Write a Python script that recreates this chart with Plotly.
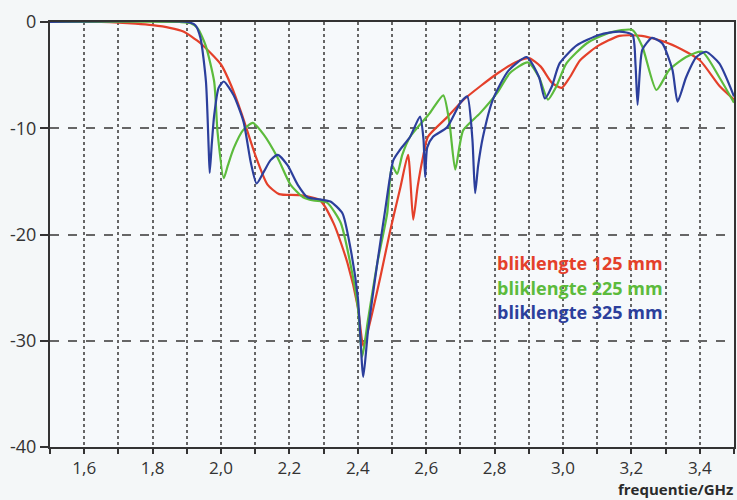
import plotly.graph_objects as go

# ---- data ----
red_x = [1.50, 1.65, 1.70, 1.75, 1.80, 1.85, 1.89, 1.94, 2.00, 2.03, 2.06, 2.10, 2.136, 2.17, 2.23, 2.29,
         2.33, 2.37, 2.40, 2.416, 2.43, 2.466, 2.495, 2.525, 2.547, 2.562, 2.575, 2.59, 2.605, 2.66, 2.71,
         2.76, 2.81, 2.86, 2.90, 2.935, 2.967, 2.996, 3.02, 3.05, 3.10, 3.165, 3.23, 3.28, 3.33, 3.40, 3.457, 3.50]
red_y = [0, 0, -0.05, -0.15, -0.3, -0.55, -0.9, -2.0, -4.0, -6.0, -8.6, -12.5, -15.3, -16.2, -16.3, -16.8,
         -19.0, -22.7, -26.8, -30.5, -29.0, -24.0, -19.6, -15.5, -12.5, -18.6, -15.5, -12.8, -10.8, -9.0, -7.3,
         -6.0, -4.8, -3.8, -3.4, -4.2, -5.7, -6.2, -5.2, -3.6, -2.3, -1.3, -1.3, -1.7, -2.3, -3.6, -6.0, -7.3]

green_x = [1.50, 1.88, 1.91, 1.932, 1.955, 1.98, 1.99, 2.008, 2.02, 2.037, 2.064, 2.093, 2.125, 2.166, 2.203,
           2.24, 2.27, 2.31, 2.35, 2.378, 2.40, 2.413, 2.43, 2.457, 2.486, 2.50, 2.515, 2.53, 2.553, 2.61, 2.65,
           2.668, 2.685, 2.708, 2.757, 2.807, 2.845, 2.897, 2.93, 2.956, 2.98, 3.01, 3.07, 3.136, 3.203, 3.232,
           3.273, 3.311, 3.36, 3.407, 3.457, 3.50]
green_y = [0, 0, -0.1, -0.6, -2.2, -5.6, -10.4, -14.7, -13.5, -11.9, -10.2, -9.5, -10.6, -12.8, -15.3,
           -16.5, -16.8, -17.0, -18.9, -22.7, -26.8, -31.5, -28.0, -22.7, -18.0, -13.5, -14.3, -12.5, -10.8, -8.6, -6.9,
           -9.5, -13.9, -10.2, -8.6, -6.7, -4.8, -3.8, -5.2, -7.3, -6.1, -3.9, -2.0, -1.0, -0.75, -2.3,
           -6.4, -4.5, -3.3, -2.8, -5.2, -7.6]

blue_x = [1.50, 1.90, 1.925, 1.94, 1.956, 1.964, 1.967, 1.973, 1.98, 1.993, 2.008, 2.037, 2.066, 2.087, 2.104,
          2.125, 2.145, 2.166, 2.195, 2.224, 2.253, 2.29, 2.32, 2.355, 2.378, 2.40, 2.416, 2.43, 2.457, 2.48,
          2.504, 2.524, 2.553, 2.582, 2.592, 2.597, 2.603, 2.62, 2.661, 2.70, 2.72, 2.735, 2.743, 2.752, 2.766,
          2.795, 2.84, 2.894, 2.93, 2.947, 2.967, 2.99, 3.04, 3.107, 3.165, 3.203, 3.212, 3.218, 3.225, 3.232,
          3.26, 3.29, 3.32, 3.335, 3.36, 3.39, 3.418, 3.457, 3.50]
blue_y = [0, 0, -0.3, -1.5, -5.6, -11.9, -14.2, -11.5, -8.8, -6.2, -5.6, -6.9, -9.4, -13.2, -15.2,
          -14.1, -13.0, -12.5, -13.5, -15.3, -16.5, -16.7, -16.9, -18.0, -21.2, -25.9, -33.4, -29.0, -22.7, -17.7,
          -13.0, -12.0, -10.8, -8.9, -11.0, -14.6, -11.8, -10.8, -9.9, -7.6, -7.0, -11.0, -16.1, -13.5, -10.8,
          -7.3, -4.6, -3.3, -5.2, -7.2, -6.1, -3.9, -2.2, -1.2, -0.9, -1.2, -4.0, -7.8, -4.5, -2.6,
          -1.5, -2.0, -4.5, -7.5, -5.2, -3.3, -2.8, -3.9, -7.0]

series_names = ["bliklengte 125 mm", "bliklengte 225 mm", "bliklengte 325 mm"]
series_colors = ["#e4402a", "#5cbb3c", "#2c3f9c"]

x_tickvals = [1.6, 1.8, 2.0, 2.2, 2.4, 2.6, 2.8, 3.0, 3.2, 3.4]
x_ticktext = ["1,6", "1,8", "2,0", "2,2", "2,4", "2,6", "2,8", "3,0", "3,2", "3,4"]
x_minor = [1.5, 1.7, 1.9, 2.1, 2.3, 2.5, 2.7, 2.9, 3.1, 3.3, 3.5]
y_tickvals = [-40, -30, -20, -10, 0]
y_ticktext = ["-40", "-30", "-20", "-10", "0"]
x_title = "frequentie/GHz"

fig = go.Figure()
for xs, ys, name, col in zip([red_x, green_x, blue_x], [red_y, green_y, blue_y], series_names, series_colors):
    fig.add_trace(go.Scatter(x=xs, y=ys, mode="lines", name=name,
                             line=dict(color=col, width=2.2, shape="spline", smoothing=0.6)))

for i, (name, col) in enumerate(zip(series_names, series_colors)):
    fig.add_annotation(x=2.80, y=-22.7 - i * 2.3, xref="x", yref="y", text="<b>" + name + "</b>",
                       showarrow=False, xanchor="left", yanchor="middle",
                       font=dict(family="Open Sans", size=18, color=col))

fig.add_annotation(x=1.0, y=0, xref="paper", yref="paper", yshift=-42, text="<b>" + x_title + "</b>",
                   showarrow=False, xanchor="right", yanchor="middle", borderpad=0,
                   font=dict(family="Open Sans", size=15, color="#2a2a2a"))

fig.update_layout(
    width=737, height=500,
    margin=dict(l=50, r=3, t=22, b=53),
    paper_bgcolor="#f4f7f8",
    plot_bgcolor="#f6f9fb",
    showlegend=False,
    font=dict(family="Open Sans", size=16, color="#333333"),
)
fig.update_xaxes(range=[1.5, 3.5], tickmode="array", tickvals=x_tickvals, ticktext=x_ticktext,
                 showgrid=True, gridcolor="#666666", griddash="dot", gridwidth=1.5,
                 ticks="outside", ticklen=5, tickcolor="#333", tickwidth=1.5,
                 minor=dict(tickmode="array", tickvals=x_minor, showgrid=True, gridcolor="#666666",
                            griddash="dot", gridwidth=1.5, ticks="outside", ticklen=5, tickcolor="#333"),
                 showline=True, linecolor="#333333", linewidth=2, mirror=True, zeroline=False,
                 tickfont=dict(size=17), automargin=False)
fig.update_yaxes(range=[-40, 0], tickmode="array", tickvals=y_tickvals, ticktext=y_ticktext,
                 showgrid=True, gridcolor="#666666", griddash="dash", gridwidth=1.5,
                 ticks="outside", ticklen=8, tickcolor="#333", tickwidth=1.5,
                 showline=True, linecolor="#333333", linewidth=2, mirror=True, zeroline=False,
                 tickfont=dict(size=18), automargin=False)

fig.write_html("out.html", config={"displayModeBar": False},
               post_script="document.body.style.margin='0';")
